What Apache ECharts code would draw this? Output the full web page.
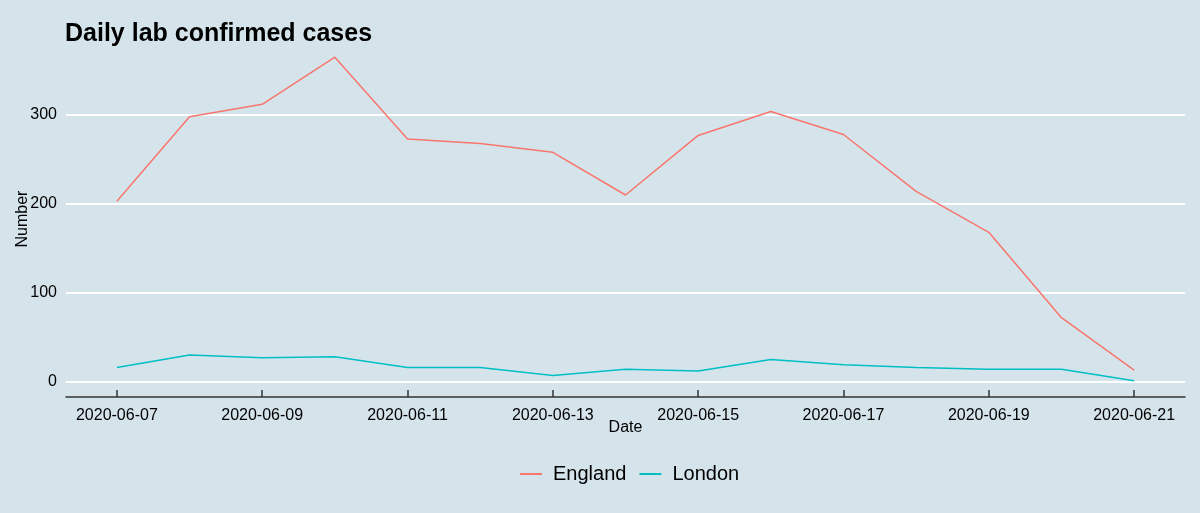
<!DOCTYPE html>
<html>
<head>
<meta charset="utf-8">
<title>Daily lab confirmed cases</title>
<script src="https://cdn.jsdelivr.net/npm/echarts@6/dist/echarts.min.js"></script>
<style>
    html, body { margin: 0; padding: 0; background: #d5e4eb; }
    #chart { width: 1200px; height: 513px; }
</style>
</head>
<body>
<div id="chart"></div>
<script>
// data
const dates = ['2020-06-07', '2020-06-08', '2020-06-09', '2020-06-10', '2020-06-11', '2020-06-12', '2020-06-13',
    '2020-06-14', '2020-06-15', '2020-06-16', '2020-06-17', '2020-06-18', '2020-06-19', '2020-06-20', '2020-06-21'];
const england = [203, 298, 312, 365, 273, 268, 258, 210, 277, 304, 278, 214, 168, 72, 13];
const london = [16, 30, 27, 28, 16, 16, 7, 14, 12, 25, 19, 16, 14, 14, 1];
const xTicks = ['2020-06-07', '2020-06-09', '2020-06-11', '2020-06-13', '2020-06-15', '2020-06-17', '2020-06-19', '2020-06-21'];
const yTicks = [0, 100, 200, 300];

document.addEventListener('DOMContentLoaded', function () {
    const chartDom = document.getElementById('chart');
    const chart = echarts.init(chartDom);

    // dates -> timestamps (local midnight)
    const toTime = function (s) {
        const p = s.split('-').map(Number);
        return new Date(p[0], p[1] - 1, p[2]).getTime();
    };
    const pad = function (n) { return n < 10 ? '0' + n : '' + n; };
    const fmtDate = function (v) {
        const d = new Date(v);
        return d.getFullYear() + '-' + pad(d.getMonth() + 1) + '-' + pad(d.getDate());
    };

    // ggplot style 5% expansion of both scales
    const times = dates.map(toTime);
    const xSpan = times[times.length - 1] - times[0];
    const allValues = england.concat(london);
    const yLo = Math.min.apply(null, allValues);
    const yHi = Math.max.apply(null, allValues);
    const ySpan = yHi - yLo;

    const option = {
        backgroundColor: '#d5e4eb',
        textStyle: { fontFamily: 'Liberation Sans, Arial, sans-serif' },
        title: {
            text: 'Daily lab confirmed cases',
            left: 60,
            top: 17,
            textStyle: { fontSize: 25, fontWeight: 'bold', color: '#000' }
        },
        legend: {
            data: ['England', 'London'],
            left: 515,
            top: 459,
            icon: 'rect',
            itemWidth: 22,
            itemHeight: 2,
            itemGap: 13,
            textStyle: { fontSize: 20, color: '#000', padding: [0, 0, 0, 6] }
        },
        grid: {
            left: 66,
            right: 15,
            top: 41,
            bottom: 116,
            containLabel: false,
            outerBoundsMode: 'none'
        },
        xAxis: {
            type: 'value',
            min: times[0] - xSpan * 0.05,
            max: times[times.length - 1] + xSpan * 0.05,
            name: 'Date',
            nameLocation: 'middle',
            nameGap: 23,
            nameMoveOverlap: false,
            nameTextStyle: { fontSize: 16, color: '#000' },
            axisLine: { show: true, onZero: false, lineStyle: { color: '#333', width: 1.5 } },
            axisTick: {
                show: true,
                inside: true,
                length: 7,
                customValues: xTicks.map(toTime),
                lineStyle: { color: '#333', width: 1.5 }
            },
            axisLabel: {
                customValues: xTicks.map(toTime),
                formatter: fmtDate,
                fontSize: 16,
                color: '#000',
                margin: 11
            },
            splitLine: { show: false }
        },
        yAxis: {
            type: 'value',
            min: yLo - ySpan * 0.05,
            max: yHi + ySpan * 0.05,
            name: 'Number',
            nameLocation: 'middle',
            nameGap: 35,
            nameMoveOverlap: false,
            nameTextStyle: { fontSize: 16, color: '#000' },
            axisLine: { show: false },
            axisTick: { show: false, customValues: yTicks },
            axisLabel: {
                customValues: yTicks,
                fontSize: 16,
                color: '#000',
                margin: 9
            },
            splitLine: { show: true, lineStyle: { color: '#ffffff', width: 2 } }
        },
        series: [
            {
                name: 'England',
                type: 'line',
                data: times.map(function (t, i) { return [t, england[i]]; }),
                showSymbol: false,
                lineStyle: { color: '#F8766D', width: 1.5 },
                itemStyle: { color: '#F8766D' }
            },
            {
                name: 'London',
                type: 'line',
                data: times.map(function (t, i) { return [t, london[i]]; }),
                showSymbol: false,
                lineStyle: { color: '#00BFC4', width: 1.5 },
                itemStyle: { color: '#00BFC4' }
            }
        ]
    };
    chart.setOption(option);

    window.addEventListener('resize', function () {
        chart.resize();
    });
});
</script>
</body>
</html>
